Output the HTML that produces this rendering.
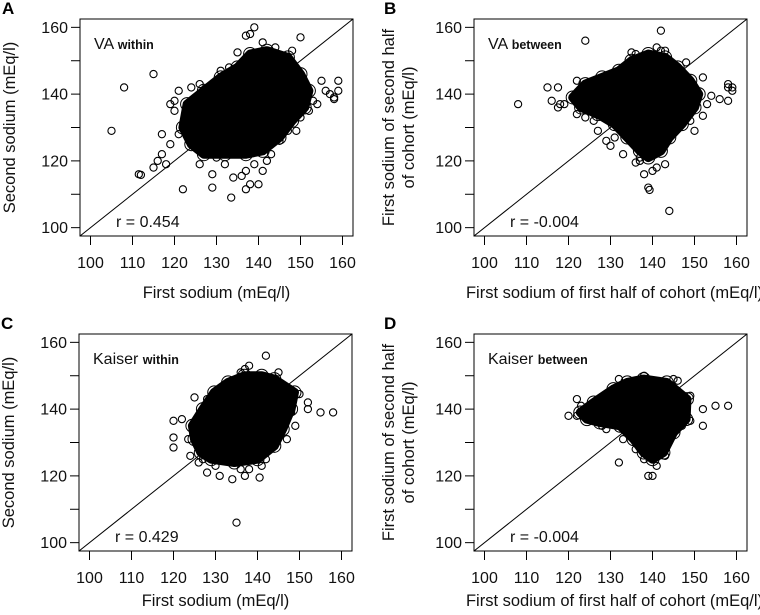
<!DOCTYPE html>
<html><head><meta charset="utf-8">
<style>
html,body{margin:0;padding:0;background:#fff;}
svg{display:block;font-family:"Liberation Sans",Arial,sans-serif;}
</style></head>
<body>
<svg id="fig" width="760" height="615" viewBox="0 0 760 615" xmlns="http://www.w3.org/2000/svg"></svg>
<script>
// ---- data (mEq/l) ----
const xTicks = [100,110,120,130,140,150,160];
const yTicks = [100,110,120,130,140,150,160];
const yTickLabels = [100,"",120,"",140,"",160];
const panelLetters = ["A","B","C","D"];
const panelTitles = ["VA","VA","Kaiser","Kaiser"];
const panelKinds = ["within","between","within","between"];
const rValues = ["0.454","-0.004","0.429","-0.004"];

const coreA = [[123,137],[127,141],[131,145],[135,148],[138,152],[142,153],[147,151],[150,146],[152,141],[151,136],[148,132],[145,127],[141,123],[137,122],[132,122],[127,122],[124,125],[122,130]];
const outA = [[105,129],[108,142],[115,146],[111.5,116],[112,115.8],[115,118],[116,120],[117,122],[117,128],[118,119],[119,125],[119,137],[120,138],[121,128],[121,141],[122,111.5],[124,127],[124,142],[126,143],[129,112],[129,116],[133.5,109],[134,115],[136,115.5],[137,111.5],[138,113],[140,113],[137,117],[139,119],[141,117],[143,122],[145,126],[147,129],[149,129],[150,133],[152,135],[153,138],[154,137],[155,144],[156,141],[157,140],[158,139],[158,138.5],[159,144],[159,141],[150,157],[148,153],[144,154],[139,160],[138,158],[137,157.5],[135,152.5],[141,155.5],[131,147],[133,148],[146,150],[126,119],[130,121],[132,119],[142,120],[123,131],[120,135]];
const coreB = [[121,139],[124,143],[128,145],[132,147],[135,150],[139,152],[143,151],[146,148],[149,144],[151,140],[150,136],[147,131],[144,127],[142,123],[139,121],[137,123],[134,127],[131,131],[127,134],[123,136]];
const outB = [[108,137],[115,142],[116,138],[117.5,142],[117.5,136],[118,137],[119,137],[121,139],[122,144],[122,134],[124,156],[124,133],[126,132],[127,129],[129,126],[130,124.5],[131,127],[133,122],[136,119.5],[137,120],[138,116],[139,112],[139.3,111.3],[140,117],[141,118],[143,119],[144,105],[142,159],[141,154],[142,153],[135,152.5],[136,152],[143,153],[148,149.5],[150,129],[152,133.5],[153,137],[154,139.5],[156,138.5],[158,143],[158,142],[159,142],[158,138],[159,141],[149,132],[146,130],[152,145],[137,121]];
const coreC = [[124.5,135],[127,140],[129.7,145],[133,148],[136.9,150],[141,150],[144,149],[148.8,145],[148,140],[146,134],[144,129],[140,125],[134.5,124],[129,125],[126.5,127],[125,131]];
const outC = [[120,128.5],[120,131.5],[120,136.5],[122,137],[123.5,131],[124,126],[125,143.5],[126,124],[128,121],[128,143],[131,120],[134,119],[135,106],[137,120],[138,122],[140.5,119.5],[142,125],[143,128],[145,134],[149,135],[152,140],[152,142],[155,139],[158,139],[150,144.5],[142,156],[138,153],[136,151],[137,152],[145,151],[134,148.5],[126,137],[127,125],[130,123],[136,122],[141,123],[147,131],[148,139]];
const coreD = [[122.8,139],[126,142],[130.7,146],[134,148],[137.9,149],[143.4,148],[148.2,143],[148,137],[145,133],[142.6,127],[140,125],[137.9,127],[135.5,131],[132.3,135],[127.5,136],[124.4,137]];
const outD = [[120,138],[122,138],[122,143],[123,141],[124,140],[126,142],[127,137],[128,135],[129,134],[132,124],[132,149],[133,131],[138,150],[139,120],[140,120],[141,123],[143,126],[143,130],[145,149],[146,148.5],[149,144],[149,136.5],[152,140],[152,135],[155,141],[158,141],[136,128],[138,125],[147,135]];
const cores = [coreA,coreB,coreC,coreD];
const outs = [outA,outB,outC,outD];

// ---- layout ----
const boxes = [[80,19],[474,19],[79,334],[474,334]];
const titleOffsets = [62,62,55,55];
const BW = 273, BH = 217, D0 = 97.5, D1 = 162.5;
const xLabels = ["First sodium (mEq/l)","First sodium of first half of cohort (mEq/l)","First sodium (mEq/l)","First sodium of first half of cohort (mEq/l)"];
const yLabels = [["Second sodium (mEq/l)"],["First sodium of second half","of cohort (mEq/l)"],["Second sodium (mEq/l)"],["First sodium of second half","of cohort (mEq/l)"]];

const NS = "http://www.w3.org/2000/svg";
const svg = document.getElementById('fig');
function mk(tag, attrs, parent){ const e=document.createElementNS(NS,tag); for(const k in attrs) e.setAttribute(k,attrs[k]); (parent||svg).appendChild(e); return e; }

for(let p=0;p<4;p++){
  const [bx,by]=boxes[p];
  const sx=v=>bx+(v-D0)/(D1-D0)*BW;
  const sy=v=>by+BH-(v-D0)/(D1-D0)*BH;
  const g=mk('g',{});
  
  
  const cid='clip'+p;
  const cp=mk('clipPath',{id:cid},g); mk('rect',{x:bx,y:by,width:BW,height:BH},cp);
  const pts=mk('g',{'clip-path':'url(#'+cid+')'},g);
  
  
  const dl=mk('line',{x1:sx(D0),y1:sy(D0),x2:sx(D1),y2:sy(D1),stroke:'#000','stroke-width':1},pts);
  
  
  const core=cores[p];
  const poly=mk('polygon',{points:core.map(c=>sx(c[0])+','+sy(c[1])).join(' '),fill:'#000',stroke:'#000','stroke-width':9,'stroke-linejoin':'round'},pts);
  
  
  core.forEach(c=>{
    const e=mk('circle',{cx:sx(c[0]),cy:sy(c[1]),r:6.5,fill:'none',stroke:'#000','stroke-width':1},pts);
    
    
  });
  outs[p].forEach(c=>{
    const e=mk('circle',{cx:sx(c[0]),cy:sy(c[1]),r:3.6,fill:'none',stroke:'#000','stroke-width':1.1},pts);
    
    
  });
  const rb=mk('rect',{x:bx,y:by,width:BW,height:BH,fill:'none',stroke:'#000','stroke-width':1},g);
  
  
  xTicks.forEach(v=>{
    const x=sx(v);
    const t=mk('line',{x1:x,y1:by+BH,x2:x,y2:by+BH+9,stroke:'#000','stroke-width':1},g);
    
    
    const l=mk('text',{x:x,y:by+BH+32,'font-size':16,'text-anchor':'middle',fill:'#111'},g);
    l.textContent=v;
    
    
  });
  yTicks.forEach((v,i)=>{
    const y=sy(v);
    const t=mk('line',{x1:bx-9,y1:y,x2:bx,y2:y,stroke:'#000','stroke-width':1},g);
    
    
    if(yTickLabels[i]!==""){
      const l=mk('text',{x:bx-12,y:y+5.5,'font-size':16,'text-anchor':'end',fill:'#111'},g);
      l.textContent=yTickLabels[i];
      
      
    }
  });
  const xl=mk('text',{x:bx+BW/2+(p%2?4:0),y:by+BH+titleOffsets[p],'font-size':16.5,'text-anchor':'middle',fill:'#111'},g);
  xl.textContent=xLabels[p];
  
  
  const yl=yLabels[p];
  const cyy=by+BH/2;
  yl.forEach((s,i)=>{
    const xx = yl.length===1 ? bx-65 : bx-80+i*20;
    const t=mk('text',{x:xx,y:cyy,'font-size':16.5,'text-anchor':'middle',fill:'#111',transform:'rotate(-90 '+xx+' '+cyy+')'},g);
    t.textContent=s;
    
    
  });
  const lt=mk('text',{x:p%2?bx-90:bx-78,y:by-5,'font-size':17,'font-weight':'bold',fill:'#000'},g);
  lt.textContent=panelLetters[p];
  
  
  const tt=mk('text',{x:bx+14,y:by+30,'font-size':16,fill:'#111'},g);
  
  
  const s1=mk('tspan',{},tt); s1.textContent=panelTitles[p]+' ';
  const s2=mk('tspan',{'font-size':12.5,'font-weight':'bold'},tt); s2.textContent=panelKinds[p];
  const rt=mk('text',{x:bx+36,y:by+BH-9,'font-size':16,fill:'#111'},g);
  rt.textContent='r = '+rValues[p];
  
  
}
</script>
</body></html>
